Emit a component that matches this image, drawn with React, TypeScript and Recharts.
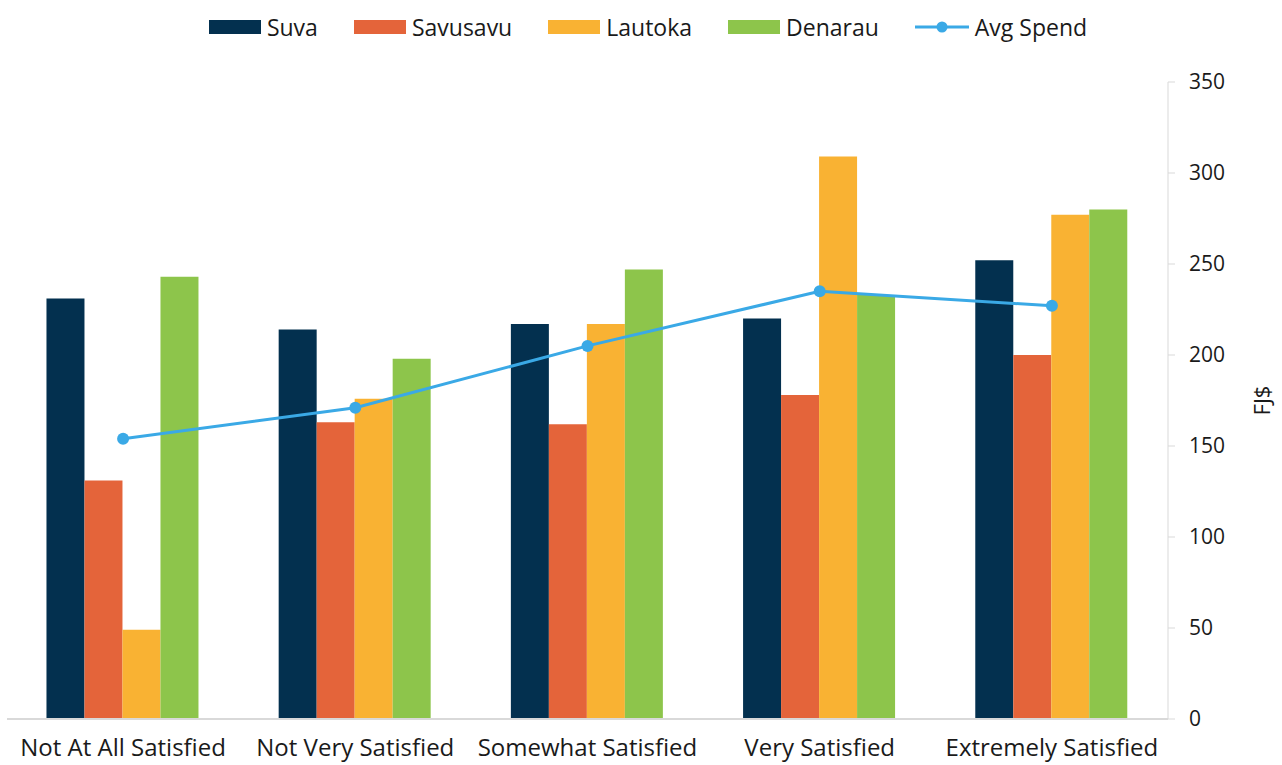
import { Bar, ComposedChart, Legend, Line, XAxis, YAxis } from "recharts";

const categories = [
  "Not At All Satisfied",
  "Not Very Satisfied",
  "Somewhat Satisfied",
  "Very Satisfied",
  "Extremely Satisfied",
];
const suva = [231, 214, 217, 220, 252];
const savusavu = [131, 163, 162, 178, 200];
const lautoka = [49, 176, 217, 309, 277];
const denarau = [243, 198, 247, 233, 280];
const avgSpend = [154, 171, 205, 235, 227];
const yTicks = [0, 50, 100, 150, 200, 250, 300, 350];

const series = [
  { key: "suva", name: "Suva", color: "#03304f" },
  { key: "savusavu", name: "Savusavu", color: "#e4643a" },
  { key: "lautoka", name: "Lautoka", color: "#f9b233" },
  { key: "denarau", name: "Denarau", color: "#8dc54b" },
];
const lineColor = "#3aa9e6";
const font = "'Open Sans', sans-serif";

const data = categories.map((name, i) => ({
  name,
  suva: suva[i],
  savusavu: savusavu[i],
  lautoka: lautoka[i],
  denarau: denarau[i],
  avg: avgSpend[i],
}));

function LegendBox() {
  return (
    <div
      style={{
        display: "flex",
        justifyContent: "center",
        alignItems: "center",
        gap: 36,
        fontFamily: font,
        fontSize: 23,
        color: "#1a1a1a",
        paddingLeft: 14,
        height: 30,
      }}
    >
      {series.map((s) => (
        <div key={s.key} style={{ display: "flex", alignItems: "center", gap: 6 }}>
          <span style={{ width: 52, height: 14, background: s.color, display: "inline-block" }} />
          <span>{s.name}</span>
        </div>
      ))}
      <div style={{ display: "flex", alignItems: "center", gap: 6 }}>
        <svg width={54} height={14}>
          <line x1={0} y1={7} x2={54} y2={7} stroke={lineColor} strokeWidth={3} />
          <circle cx={27} cy={7} r={5.5} fill={lineColor} />
        </svg>
        <span>Avg Spend</span>
      </div>
    </div>
  );
}

export default function App() {
  return (
    <div style={{ position: "absolute", left: 0, top: 0, width: 1282, height: 765, background: "#fff" }}>
      <ComposedChart
        width={1282}
        height={765}
        data={data}
        margin={{ top: 52, right: 0, bottom: 0, left: 7 }}
        barCategoryGap="17%"
        barGap={0}
      >
        <Legend
          content={<LegendBox />}
          verticalAlign="top"
          wrapperStyle={{ position: "absolute", top: 12, left: 0, width: 1282 }}
        />
        <XAxis
          dataKey="name"
          height={46}
          tickLine={false}
          axisLine={{ stroke: "#d9d9d9", strokeWidth: 2 }}
          tick={{ fontFamily: font, fontSize: 24, fill: "#1a1a1a" }}
          tickMargin={14}
          interval={0}
        />
        <YAxis
          orientation="right"
          width={114}
          domain={[0, 350]}
          ticks={yTicks}
          tickSize={7}
          tickMargin={14}
          stroke="#d9d9d9"
          tick={{ fontFamily: font, fontSize: 21, fill: "#1a1a1a", textAnchor: "start" }}
          label={{
            value: "FJ$",
            angle: -90,
            position: "insideRight",
            offset: 20,
            style: { fontFamily: font, fontSize: 22, fill: "#1a1a1a", textAnchor: "middle" },
          }}
        />
        {series.map((s) => (
          <Bar key={s.key} dataKey={s.key} name={s.name} fill={s.color} isAnimationActive={false} />
        ))}
        <Line
          dataKey="avg"
          name="Avg Spend"
          stroke={lineColor}
          strokeWidth={3}
          dot={{ r: 6, fill: lineColor, stroke: lineColor, strokeWidth: 0 }}
          isAnimationActive={false}
        />
      </ComposedChart>
    </div>
  );
}
